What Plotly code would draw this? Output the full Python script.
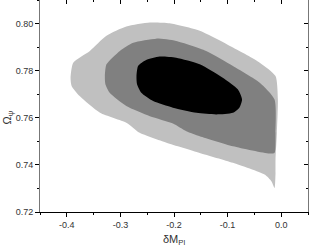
import plotly.graph_objects as go

# 95% (outer) contour boundary
outer_x = [-0.393, -0.388, -0.357, -0.326, -0.289, -0.245, -0.208, -0.152, -0.090, -0.040,
           -0.0106, -0.0062, -0.008, -0.0106, -0.0106, -0.0124, -0.018, -0.031, -0.090, -0.152,
           -0.214, -0.264, -0.276, -0.289, -0.338, -0.376, -0.391]
outer_y = [0.7770, 0.7834, 0.7884, 0.7948, 0.7987, 0.8004, 0.8001, 0.7969, 0.7898, 0.7834,
           0.7777, 0.7678, 0.7536, 0.7423, 0.7366, 0.7302, 0.7330, 0.7359, 0.7409, 0.7451,
           0.7494, 0.7536, 0.7557, 0.7579, 0.7621, 0.7692, 0.7735]

# 68% (middle) contour boundary
mid_x = [-0.329, -0.326, -0.301, -0.276, -0.233, -0.196, -0.140, -0.090, -0.040, -0.0124,
         -0.0106, -0.0124, -0.022, -0.090, -0.152, -0.177, -0.202, -0.245, -0.289, -0.320, -0.328]
mid_y = [0.7777, 0.7827, 0.7884, 0.7919, 0.7936, 0.7926, 0.7884, 0.7820, 0.7749, 0.7678,
         0.7536, 0.7451, 0.7448, 0.7479, 0.7522, 0.7543, 0.7576, 0.7607, 0.7650, 0.7706, 0.7742]

# inner contour boundary
inner_x = [-0.270, -0.267, -0.252, -0.227, -0.196, -0.152, -0.109, -0.081, -0.073, -0.078,
           -0.090, -0.121, -0.158, -0.202, -0.239, -0.261, -0.269]
inner_y = [0.7777, 0.7820, 0.7845, 0.7860, 0.7855, 0.7827, 0.7770, 0.7721, 0.7678, 0.7643,
           0.7621, 0.7614, 0.7621, 0.7643, 0.7671, 0.7706, 0.7742]

x_ticks = [-0.4, -0.3, -0.2, -0.1, 0.0]
x_labels = ["-0.4", "-0.3", "-0.2", "-0.1", "0.0"]
y_ticks = [0.72, 0.74, 0.76, 0.78, 0.80]
y_labels = ["0.72", "0.74", "0.76", "0.78", "0.80"]
x_title = "δM<sub>Pl</sub>"
y_title = "Ω<sub>ψ</sub>"

fig = go.Figure()
for xs, ys, col in [(outer_x, outer_y, "#c0c0c0"), (mid_x, mid_y, "#808080"), (inner_x, inner_y, "#000000")]:
    fig.add_trace(go.Scatter(x=xs + xs[:1], y=ys + ys[:1], mode="lines", fill="toself",
                             fillcolor=col, line=dict(width=0, color=col, shape="spline", smoothing=0.6),
                             hoverinfo="skip", showlegend=False))
# invisible trace to carry the mirrored top/right axes
fig.add_trace(go.Scatter(x=[None], y=[None], xaxis="x2", yaxis="y2", mode="markers",
                         hoverinfo="skip", showlegend=False))

font = dict(family="Liberation Sans, Arial, sans-serif", size=9, color="#333333")
tfont = dict(family="Liberation Sans, Arial, sans-serif", size=11, color="#333333")
xr = [-0.45, 0.05]
yr = [0.72, 0.81]

common = dict(showgrid=False, zeroline=False, automargin=False, linewidth=1, tickcolor="#000")

fig.update_layout(
    width=309, height=248,
    margin=dict(l=40, r=1, t=0, b=36, autoexpand=False),
    paper_bgcolor="white", plot_bgcolor="white",
    showlegend=False,
    font=font,
    xaxis=dict(range=xr, tickvals=x_ticks, ticktext=x_labels, ticks="outside", ticklen=4,
               showline=True, linecolor="#000", tickfont=font,
               minor=dict(dtick=0.05, tick0=0, ticks="outside", ticklen=2, tickcolor="#000"), **common),
    yaxis=dict(range=yr, tickvals=y_ticks, ticktext=y_labels, ticks="outside", ticklen=4,
               showline=True, linecolor="#777", tickfont=font,
               minor=dict(dtick=0.01, tick0=0.72, ticks="outside", ticklen=2, tickcolor="#000"), **common),
    xaxis2=dict(range=xr, overlaying="x", side="top", tickvals=x_ticks, showticklabels=False,
                ticks="inside", ticklen=4, showline=True, linecolor="#777",
                minor=dict(dtick=0.05, tick0=0, ticks="inside", ticklen=2, tickcolor="#000"), **common),
    yaxis2=dict(range=yr, overlaying="y", side="right", tickvals=y_ticks, showticklabels=False,
                ticks="inside", ticklen=4, showline=True, linecolor="#777",
                minor=dict(dtick=0.01, tick0=0.72, ticks="inside", ticklen=2, tickcolor="#000"), **common),
    annotations=[
        dict(text=x_title, xref="paper", yref="paper", x=0.5, y=-0.09, xanchor="center",
             yanchor="top", showarrow=False, font=tfont),
        dict(text=y_title, xref="paper", yref="paper", x=-0.12, y=0.445, xanchor="center",
             yanchor="middle", showarrow=False, textangle=-90, font=tfont),
    ],
)

fig.write_html("out.html", config={"displayModeBar": False},
               post_script="document.body.style.margin='0';document.body.style.padding='0';")
